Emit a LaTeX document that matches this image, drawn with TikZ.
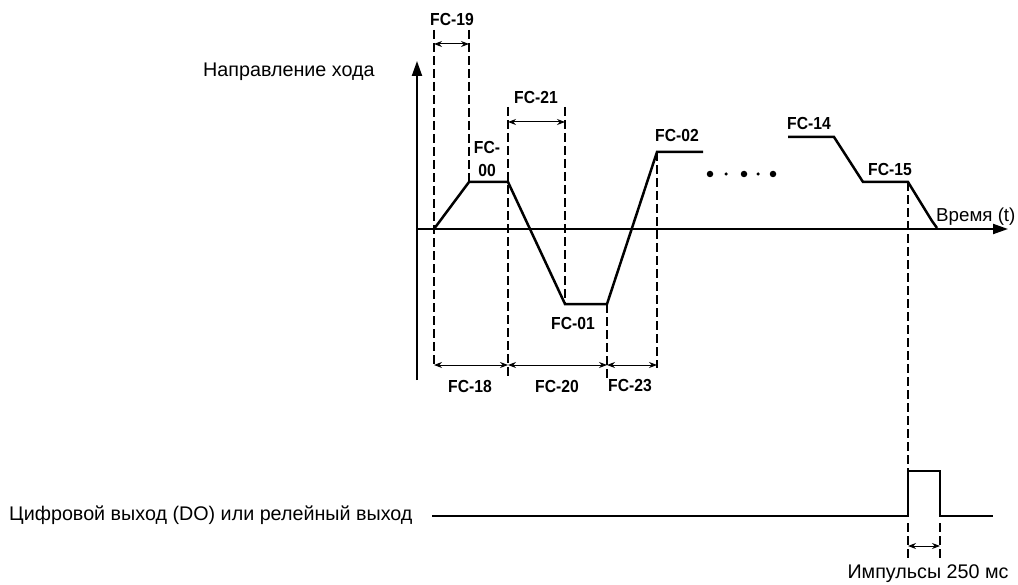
\documentclass[tikz,border=0pt]{standalone}
\usepackage{fontspec}
\setmainfont{Liberation Sans}
\newfontfamily\fcfont[FakeStretch=0.9]{Liberation Sans}
\usetikzlibrary{arrows.meta}
\begin{document}
\begin{tikzpicture}[x=1bp,y=-1bp,
  axis/.style={line width=2bp,-{Triangle[length=15bp,width=10bp]}},
  curve/.style={line width=2.5bp,line join=miter},
  guide/.style={line width=2bp,dash pattern=on 9bp off 4bp},
  dim/.style={line width=1bp,{Stealth[length=8bp,width=6bp]}-{Stealth[length=8bp,width=6bp]}},
  fc/.style={font=\fcfont\bfseries\fontsize{17.5}{24}\selectfont,inner sep=0pt,align=center},
  lbl/.style={font=\fontsize{19.8}{22}\selectfont,inner sep=0pt},
  bigdot/.style={fill=black,circle,inner sep=0pt,minimum size=6.5bp},
  smalldot/.style={fill=black,circle,inner sep=0pt,minimum size=3.5bp}]
\useasboundingbox (0,0) rectangle (1018,585);
% axes
\coordinate (yb) at (417,380);
\coordinate (yt) at (417,61);
\coordinate (xl) at (417,229);
\coordinate (xr) at (1008,229);
\draw[axis] (yb) -- (yt);
\draw[axis] (xl) -- (xr);
% curve points
\coordinate (p0) at (434,229);
\coordinate (p1) at (469,182);
\coordinate (p2) at (508,182);
\coordinate (p3) at (565,304);
\coordinate (p4) at (607,304);
\coordinate (p5) at (657,152);
\coordinate (p6) at (703,152);
\coordinate (q0) at (788,137);
\coordinate (q1) at (834,137);
\coordinate (q2) at (863,182);
\coordinate (q3) at (908,182);
\coordinate (q4) at (932,221);
\coordinate (q5) at (937,228);
\draw[curve] (p0) -- (p1) -- (p2) -- (p3) -- (p4) -- (p5) -- (p6);
\draw[curve] (q0) -- (q1) -- (q2) -- (q3) -- (q4) -- (q5);
% guides
\coordinate (g1t) at (434,30);  \coordinate (g1b) at (434,368);
\coordinate (g2t) at (469,30);
\coordinate (g3t) at (508,107); \coordinate (g3b) at (508,380);
\coordinate (g4t) at (565,107);
\coordinate (g5b) at (607,380);
\coordinate (g6b) at (657,368);
\coordinate (g7b) at (908,471);
\draw[guide] (g1t) -- (g1b);
\draw[guide] (g2t) -- (p1);
\draw[guide] (g3t) -- (g3b);
\draw[guide] (g4t) -- (p3);
\draw[guide] (p4) -- (g5b);
\draw[guide] (p5) -- (g6b);
\draw[guide] (q3) -- (g7b);
% dimension arrows
\coordinate (d19a) at (434,44); \coordinate (d19b) at (469,44);
\coordinate (d21a) at (508,122); \coordinate (d21b) at (565,122);
\coordinate (d18a) at (434,365); \coordinate (d18b) at (508,365);
\coordinate (d20b) at (607,365); \coordinate (d23b) at (657,365);
\draw[dim] (d19a) -- (d19b);
\draw[dim] (d21a) -- (d21b);
\draw[dim] (d18a) -- (d18b);
\draw[dim] (d18b) -- (d20b);
\draw[dim] (d20b) -- (d23b);
% labels
\node[fc] (fc19) at (452,20) {FC-19};
\node[fc] (fc21) at (536,97) {FC-21};
\node[fc] (fc00) at (487,159) {FC-\\00};
\node[fc] (fc01) at (573,323) {FC-01};
\node[fc] (fc02) at (677,135) {FC-02};
\node[fc] (fc14) at (809,123) {FC-14};
\node[fc] (fc15) at (890,169) {FC-15};
\node[fc] (fc18) at (470,386) {FC-18};
\node[fc] (fc20) at (557,386) {FC-20};
\node[fc] (fc23) at (630,386) {FC-23};
\node[lbl,anchor=west,font=\fontsize{18.8}{22}\selectfont] (time) at (936,217) {Время (t)};
\node[lbl,anchor=west] (dir) at (203,72) {Направление хода};
% dots
\node[bigdot] (dt1) at (710,174) {};
\node[smalldot] (dt2) at (726,174) {};
\node[bigdot] (dt3) at (744,174) {};
\node[smalldot] (dt4) at (758,174) {};
\node[bigdot] (dt5) at (773,174) {};
% pulse
\coordinate (r0) at (432,516);
\coordinate (r1) at (908,516);
\coordinate (r2) at (908,471);
\coordinate (r3) at (940,471);
\coordinate (r4) at (940,516);
\coordinate (r5) at (993,516);
\draw[curve] (r0) -- (r1) -- (r2) -- (r3) -- (r4) -- (r5);
\coordinate (u1t) at (908,523); \coordinate (u1b) at (908,560);
\coordinate (u2t) at (940,523); \coordinate (u2b) at (940,560);
\draw[guide] (u1t) -- (u1b);
\draw[guide] (u2t) -- (u2b);
\coordinate (dpa) at (908,546); \coordinate (dpb) at (940,546);
\draw[dim] (dpa) -- (dpb);
\node[lbl,anchor=west] (dout) at (9,515) {Цифровой выход (DO) или релейный выход};
\node[lbl] (imp) at (928,574) {Импульсы 250 мс};
\end{tikzpicture}
\end{document}
